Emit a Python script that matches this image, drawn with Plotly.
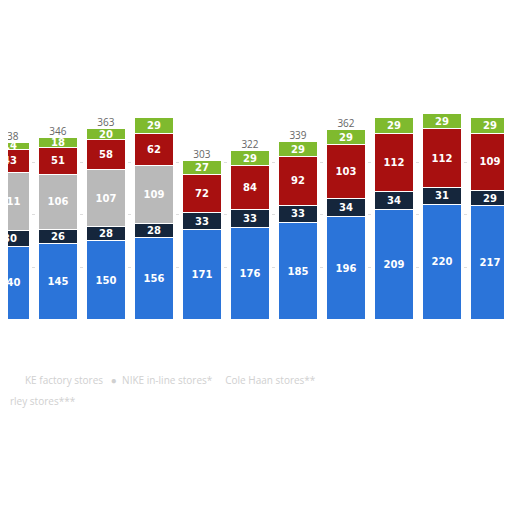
import plotly.graph_objects as go

CATS = list(range(11))
FACTORY = [140, 145, 150, 156, 171, 176, 185, 196, 209, 220, 217]
INLINE = [30, 26, 28, 28, 33, 33, 33, 34, 34, 31, 29]
OTHER = [111, 106, 107, 109, None, None, None, None, None, None, None]
CONVERSE = [43, 51, 58, 62, 72, 84, 92, 103, 112, 112, 109]
HURLEY = [14, 18, 20, 29, 27, 29, 29, 29, 29, 29, 29]
TOTALS = [338, 346, 363, None, 303, 322, 339, 362, None, None, None]

series = [
    (FACTORY, "#2b74d9"),
    (INLINE, "#15263c"),
    (OTHER, "#b9b9b9"),
    (CONVERSE, "#a81010"),
    (HURLEY, "#7fba2e"),
]

fig = go.Figure()
for vals, col in series:
    fig.add_trace(go.Bar(
        x=CATS, y=vals, marker=dict(color=col, line=dict(color="white", width=1)),
        width=0.8, text=vals, textposition="inside", insidetextanchor="middle",
        textangle=0, constraintext="none",
        textfont=dict(color="white", size=10, family="DejaVu Sans"),
        texttemplate="<b>%{y}</b>", showlegend=False,
    ))

tot_x = [c for c, t in zip(CATS, TOTALS) if t]
tot_y = [t for t in TOTALS if t]
fig.add_trace(go.Scatter(
    x=tot_x, y=tot_y, mode="text", text=[str(t) for t in tot_y],
    textposition="top center", textfont=dict(color="#666", size=10),
    showlegend=False,
))

fig.add_annotation(x=0.03, y=0.255, xref="paper", yref="paper", showarrow=False,
                   xanchor="left", text="KE factory stores   ●  NIKE in-line stores*     Cole Haan stores**",
                   font=dict(color="#d0d0d0", size=10))
fig.add_annotation(x=0.0, y=0.215, xref="paper", yref="paper", showarrow=False,
                   xanchor="left", text="rley stores***", font=dict(color="#d0d0d0", size=10))

fig.update_layout(
    width=512, height=512, barmode="stack", bargap=0.2,
    margin=dict(l=0, r=0, t=0, b=0),
    paper_bgcolor="white", plot_bgcolor="white",
    uniformtext=dict(minsize=9, mode="show"),
    xaxis=dict(range=[-0.04, 10.625], visible=False),
    yaxis=dict(range=[-381, 593], tickvals=[100, 200, 300], showticklabels=False,
               gridcolor="#dddddd", griddash="dot", zeroline=False),
)

fig.write_html("out.html")
